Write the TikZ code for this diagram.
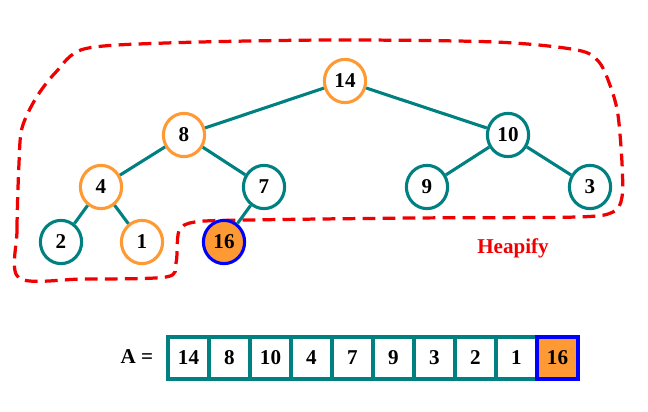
\documentclass[tikz,border=0pt]{standalone}
\usepackage{fontspec}
\setmainfont{Liberation Serif}
\usepackage{tikz}
\usetikzlibrary{shapes.geometric}

\definecolor{heapteal}{RGB}{0,128,128}
\definecolor{heaporange}{RGB}{255,153,51}
\definecolor{heapred}{RGB}{240,0,0}

\tikzset{
  keynode/.style={ellipse, draw=heapteal, fill=white, line width=2.2pt,
    minimum width=1.03cm, minimum height=1.08cm, inner sep=0pt,
    font=\fontsize{15}{16}\selectfont\bfseries},
  pathnode/.style={keynode, draw=heaporange},
  movednode/.style={keynode, draw=blue, fill=heaporange},
  treeedge/.style={draw=heapteal, line width=2.2pt},
  cell/.style={rectangle, draw=heapteal, fill=white, line width=2.2pt,
    minimum width=1.025cm, minimum height=1.05cm, inner sep=0pt,
    font=\fontsize{15}{16}\selectfont\bfseries},
}

\begin{document}
\begin{tikzpicture}[x=0.025cm, y=-0.025cm]
    \useasboundingbox (0,0) rectangle (648,412);

    % the heap region
    \draw[heapred, line width=2.3pt, dash pattern=on 0.32cm off 0.18cm]
      plot[smooth cycle, tension=0.5] coordinates {
        (19,278) (17,230) (19,163) (22,128) (36,98) (56,72) (84,49)
        (166,43) (330,40) (495,42) (577,50) (599,62) (611,88) (618,115)
        (622,163) (622,197) (613,212) (577,217) (413,218) (248,220)
        (195,222) (179,231) (176,263) (166,277) (83,279)};

    \node[pathnode] (k14) at (345,81) {14};
    \node[pathnode] (k8) at (184,135) {8};
    \node[keynode] (k10) at (508,135) {10};
    \node[pathnode] (k4) at (101,187) {4};
    \node[keynode] (k7) at (264,187) {7};
    \node[keynode] (k9) at (427,187) {9};
    \node[keynode] (k3) at (590,187) {3};
    \node[keynode] (k2) at (61,242) {2};
    \node[pathnode] (k1) at (142,242) {1};
    \node[movednode] (k16) at (224,242) {16};

    \draw[treeedge] (k14) -- (k8);
    \draw[treeedge] (k14) -- (k10);
    \draw[treeedge] (k8) -- (k4);
    \draw[treeedge] (k8) -- (k7);
    \draw[treeedge] (k10) -- (k9);
    \draw[treeedge] (k10) -- (k3);
    \draw[treeedge] (k4) -- (k2);
    \draw[treeedge] (k4) -- (k1);
    \draw[treeedge] (k7) -- (k16);

    \node[text=heapred, font=\fontsize{15}{16}\selectfont\bfseries] (heapify) at (513,248) {Heapify};

    % the array
    \foreach \v [count=\i] in {14,8,10,4,7,9,3,2,1}
      \node[cell] (a\i) at (168+41*\i-20.5,358) {\v};
    \node[cell, draw=blue, fill=heaporange] (a10) at (168+41*10-20.5,358) {16};

    \node[anchor=east, font=\fontsize{15}{16}\selectfont\bfseries] (alabel) at (158,357) {A =};
\end{tikzpicture}
\end{document}
